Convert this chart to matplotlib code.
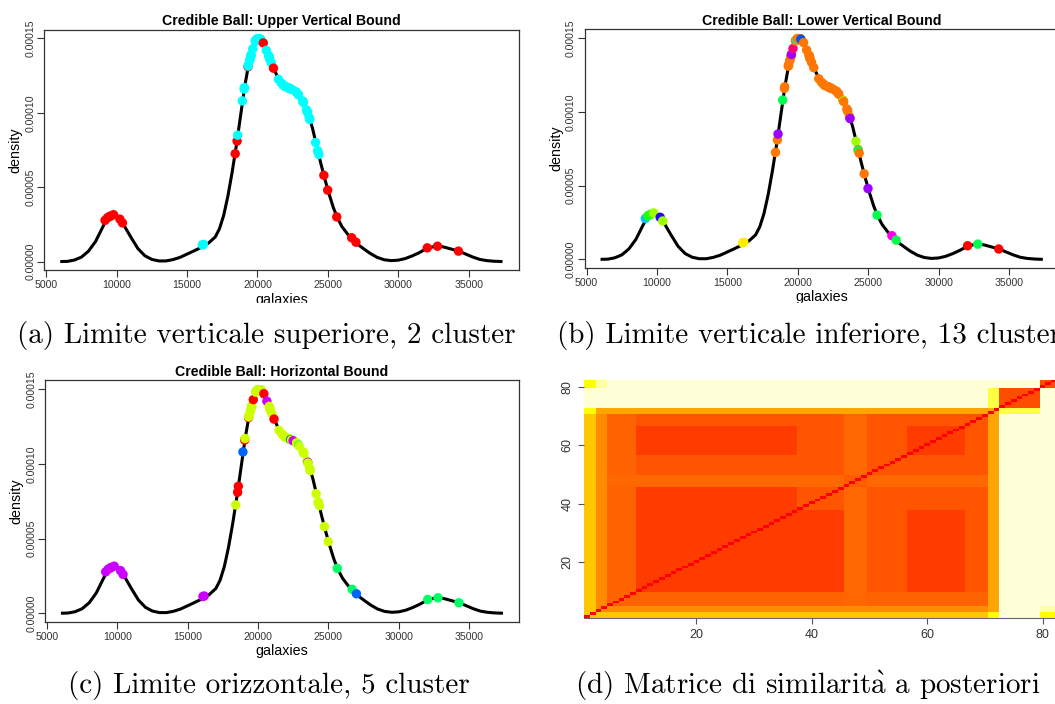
import numpy as np
import matplotlib.pyplot as plt
from matplotlib.colors import LinearSegmentedColormap
from matplotlib.patches import Rectangle

plt.rcParams['font.family'] = ['Liberation Sans', 'DejaVu Sans']
plt.rcParams['mathtext.fontset'] = 'cm'

# density curve
curve_x = [6100, 6500, 7000, 7500, 8000, 8500, 9000, 9300, 9600, 9800, 10000, 10300, 10600,
           11000, 11500, 12000, 12500, 13000, 13500, 14000, 14500, 15000, 15500, 16000, 16500,
           17000, 17300, 17600, 17900, 18200, 18500, 18800, 19100, 19400, 19700, 20000, 20300,
           20600, 20900, 21200, 21500, 21800, 22100, 22400, 22700, 23000, 23300, 23600, 23900,
           24200, 24500, 24800, 25100, 25400, 25700, 26000, 26400, 26800, 27200, 27600, 28000,
           28500, 29000, 29500, 30000, 30500, 31000, 31500, 32000, 32500, 32900, 33300, 33800,
           34300, 34800, 35300, 35800, 36300, 36800, 37300]
curve_y = [0.0, 0.1e-6, 1.0e-6, 3.0e-6, 7.0e-6, 1.35e-5, 2.3e-5, 2.85e-5, 3.12e-5, 3.16e-5, 3.08e-5,
           2.8e-5, 2.3e-5, 1.65e-5, 8.8e-6, 3.9e-6, 1.4e-6, 4e-7, 4e-7, 1.3e-6, 2.8e-6, 5e-6,
           7.2e-6, 9.5e-6, 1.22e-5, 1.65e-5, 2.2e-5, 3.1e-5, 4.4e-5, 6.0e-5, 7.8e-5, 9.8e-5,
           1.18e-4, 1.34e-4, 1.44e-4, 1.50e-4, 1.485e-4, 1.42e-4, 1.36e-4, 1.29e-4, 1.225e-4,
           1.19e-4, 1.172e-4, 1.16e-4, 1.145e-4, 1.12e-4, 1.07e-4, 9.9e-5, 9.0e-5, 7.8e-5,
           6.6e-5, 5.5e-5, 4.5e-5, 3.6e-5, 2.9e-5, 2.35e-5, 1.85e-5, 1.45e-5, 1.1e-5, 8.2e-6,
           5.5e-6, 2.8e-6, 1.2e-6, 6e-7, 9e-7, 2.0e-6, 3.8e-6, 6.0e-6, 8.6e-6, 1.0e-5, 1.04e-5,
           9.6e-6, 8.3e-6, 7.0e-6, 5.0e-6, 3.0e-6, 1.4e-6, 6e-7, 2e-7, 0.0]

# galaxy velocities and the density drawn at each
galaxies = [9172, 9350, 9483, 9558, 9775, 10227, 10406, 16084, 16170, 18419,
            18552, 18600, 18927, 19052, 19070, 19330, 19343, 19349, 19440, 19473,
            19529, 19541, 19547, 19663, 19846, 19856, 19863, 19914, 19918, 19973,
            19989, 20166, 20175, 20179, 20196, 20215, 20221, 20415, 20629, 20795,
            20821, 20846, 20875, 20986, 21137, 21492, 21701, 21814, 21921, 21960,
            22185, 22209, 22242, 22249, 22314, 22374, 22495, 22746, 22747, 22888,
            22914, 23206, 23241, 23263, 23484, 23538, 23542, 23666, 23706, 23711,
            24129, 24285, 24289, 24366, 24717, 24990, 25633, 26690, 26995, 32065,
            32789, 34279]
galaxy_density = [2.77e-5, 2.95e-5, 3.02e-5, 3.06e-5, 3.15e-5, 2.85e-5, 2.6e-5, 1.12e-5, 1.15e-5, 7.25e-5,
                  8.1e-5, 8.5e-5, 1.08e-4, 1.16e-4, 1.17e-4, 1.31e-4, 1.315e-4, 1.32e-4, 1.35e-4, 1.36e-4,
                  1.38e-4, 1.385e-4, 1.39e-4, 1.43e-4, 1.48e-4, 1.485e-4, 1.487e-4, 1.49e-4, 1.49e-4, 1.497e-4,
                  1.498e-4, 1.497e-4, 1.496e-4, 1.496e-4, 1.495e-4, 1.494e-4, 1.493e-4, 1.47e-4, 1.42e-4, 1.385e-4,
                  1.38e-4, 1.37e-4, 1.36e-4, 1.335e-4, 1.30e-4, 1.225e-4, 1.20e-4, 1.19e-4, 1.18e-4, 1.177e-4,
                  1.17e-4, 1.168e-4, 1.166e-4, 1.165e-4, 1.163e-4, 1.16e-4, 1.155e-4, 1.14e-4, 1.14e-4, 1.125e-4,
                  1.12e-4, 1.08e-4, 1.075e-4, 1.07e-4, 1.02e-4, 1.01e-4, 1.005e-4, 9.7e-5, 9.6e-5, 9.55e-5,
                  8.0e-5, 7.45e-5, 7.4e-5, 7.2e-5, 5.8e-5, 4.8e-5, 3.0e-5, 1.6e-5, 1.3e-5, 9.2e-6,
                  1.03e-5, 7.0e-6]

# cluster labels of each galaxy in the three credible-ball bounds
labels_upper = [0, 0, 0, 0, 0, 0, 0, 1, 1, 0,
                0, 1, 1, 1, 1, 0, 1, 1, 1, 1,
                1, 1, 1, 1, 1, 1, 1, 1, 1, 1,
                1, 1, 1, 1, 1, 1, 1, 0, 1, 1,
                1, 1, 1, 1, 0, 1, 1, 1, 1, 1,
                1, 1, 1, 1, 1, 1, 1, 1, 1, 1,
                1, 1, 1, 1, 1, 1, 1, 1, 1, 1,
                1, 1, 1, 1, 0, 0, 0, 0, 0, 0,
                0, 0]
labels_lower = [7, 4, 5, 4, 3, 9, 3, 2, 2, 1,
                1, 10, 5, 1, 1, 1, 1, 1, 1, 1,
                1, 1, 10, 12, 1, 1, 1, 1, 6, 1,
                1, 1, 1, 1, 1, 1, 8, 1, 1, 1,
                1, 1, 1, 1, 1, 1, 1, 1, 1, 1,
                1, 1, 1, 1, 1, 1, 1, 1, 1, 1,
                1, 1, 3, 1, 1, 1, 1, 1, 1, 10,
                3, 1, 5, 1, 1, 10, 5, 11, 5, 0,
                5, 0]
labels_horiz = [4, 4, 4, 4, 4, 4, 4, 4, 4, 1,
                0, 0, 3, 0, 1, 0, 1, 1, 1, 1,
                1, 1, 1, 0, 1, 1, 1, 1, 1, 1,
                1, 1, 1, 1, 1, 1, 1, 0, 4, 1,
                1, 1, 1, 1, 0, 1, 1, 1, 1, 1,
                1, 1, 1, 1, 3, 1, 4, 1, 1, 2,
                1, 1, 1, 1, 1, 4, 1, 1, 1, 1,
                1, 1, 1, 1, 1, 1, 2, 2, 3, 2,
                2, 2]

rainbow2 = ["#FF0000", "#00FFFF"]
rainbow5 = ["#FF0000", "#CCFF00", "#00FF66", "#0066FF", "#CC00FF"]
rainbow13 = ["#FF0000", "#FF7600", "#FFEC00", "#9DFF00", "#27FF00", "#00FF4E", "#00FFC4",
             "#00C4FF", "#004EFF", "#2700FF", "#9D00FF", "#FF00EC", "#FF0076"]

# posterior similarity matrix, described by blocks of observations
group_sizes = [2, 2, 5, 28, 8, 4, 7, 10, 4, 2, 7, 3]
block_sim = [
    [0.43, 0.43, 0.43, 0.43, 0.43, 0.43, 0.43, 0.43, 0.43, 0.27, 0.00, 0.27],
    [0.43, 0.60, 0.60, 0.60, 0.60, 0.60, 0.60, 0.60, 0.60, 0.53, 0.00, 0.05],
    [0.43, 0.60, 0.72, 0.72, 0.72, 0.70, 0.72, 0.72, 0.72, 0.53, 0.00, 0.00],
    [0.43, 0.60, 0.72, 0.83, 0.83, 0.70, 0.76, 0.83, 0.76, 0.53, 0.00, 0.00],
    [0.43, 0.60, 0.72, 0.83, 0.76, 0.70, 0.76, 0.76, 0.76, 0.53, 0.00, 0.00],
    [0.43, 0.60, 0.70, 0.70, 0.70, 0.74, 0.70, 0.70, 0.70, 0.53, 0.00, 0.00],
    [0.43, 0.60, 0.72, 0.76, 0.76, 0.70, 0.76, 0.76, 0.76, 0.53, 0.00, 0.00],
    [0.43, 0.60, 0.72, 0.83, 0.76, 0.70, 0.76, 0.83, 0.76, 0.53, 0.00, 0.00],
    [0.43, 0.60, 0.72, 0.76, 0.76, 0.70, 0.76, 0.76, 0.76, 0.53, 0.00, 0.00],
    [0.27, 0.53, 0.53, 0.53, 0.53, 0.53, 0.53, 0.53, 0.53, 0.50, 0.16, 0.00],
    [0.00, 0.00, 0.00, 0.00, 0.00, 0.00, 0.00, 0.00, 0.00, 0.16, 0.78, 0.00],
    [0.27, 0.05, 0.00, 0.00, 0.00, 0.00, 0.00, 0.00, 0.00, 0.00, 0.00, 0.78],
]

heat = ["#FFFFD8", "#FFFF80", "#FFFF2A", "#FFFF00", "#FFDF00", "#FFBF00",
        "#FF9F00", "#FF8000", "#FF6000", "#FF4000", "#FF2000", "#FF0000"]
heat_cmap = LinearSegmentedColormap.from_list("heat", heat)

W, H = 1055, 704
fig = plt.figure(figsize=(W / 100, H / 100), dpi=100)


def box(left, top, right, bottom):
    return [left / W, 1 - bottom / H, (right - left) / W, (bottom - top) / H]


def density_panel(rect, title, labels, palette):
    ax = fig.add_axes(rect)
    ax.plot(curve_x, curve_y, color="black", lw=2.2, zorder=2)
    ax.scatter(galaxies, galaxy_density, c=[palette[k] for k in labels],
               s=46, linewidths=0, zorder=3)
    ax.set_xlim(4858, 38551)
    ax.set_ylim(-5.9e-6, 1.559e-4)
    ax.set_xticks([5000, 10000, 15000, 20000, 25000, 30000, 35000])
    ax.set_yticks([0, 5e-5, 1e-4, 1.5e-4], ["0.00000", "0.00005", "0.00010", "0.00015"])
    ax.tick_params(direction="out", length=4.8, width=0.8, labelsize=7.6,
                   labelcolor="#333333", color="#333333")
    ax.tick_params(axis="x", pad=2.5)
    ax.tick_params(axis="y", pad=1.5)
    for t in ax.get_yticklabels():
        t.set_rotation(90)
        t.set_va("center")
    for s in ax.spines.values():
        s.set_color("#333333")
        s.set_linewidth(0.9)
    ax.set_title(title, fontsize=10.2, fontweight="bold", pad=3.5)
    ax.set_xlabel("galaxies", fontsize=10.3, labelpad=1.5)
    ax.set_ylabel("density", fontsize=10.3, labelpad=2)
    return ax


density_panel(box(44.3, 29.7, 518.6, 270.3), "Credible Ball: Upper Vertical Bound",
              labels_upper, rainbow2)
density_panel(box(584.6, 29.5, 1058.9, 268.0), "Credible Ball: Lower Vertical Bound",
              labels_lower, rainbow13)
density_panel(box(45.0, 380.4, 519.0, 622.0), "Credible Ball: Horizontal Bound",
              labels_horiz, rainbow5)

# similarity heatmap
groups = np.repeat(np.arange(len(group_sizes)), group_sizes)
sim = np.array(block_sim)[groups][:, groups]
np.fill_diagonal(sim, 1.0)
n = len(groups)
axd = fig.add_axes(box(584.0, 380.0, 1057.0, 618.3))
axd.imshow(sim, cmap=heat_cmap, vmin=0, vmax=1, origin="lower", aspect="auto",
           interpolation="nearest", extent=(0.5, n + 0.5, 0.5, n + 0.5))
axd.set_xticks([20, 40, 60, 80])
axd.set_yticks([20, 40, 60, 80])
axd.tick_params(direction="out", length=4, width=0.8, labelsize=9,
                labelcolor="#333333", color="#555555")
for t in axd.get_yticklabels():
    t.set_rotation(90)
    t.set_va("center")
for side in ["top", "right", "left"]:
    axd.spines[side].set_visible(False)
axd.spines["bottom"].set_color("#666677")

# the page crop hides the bottom of the first row's x labels
fig.add_artist(Rectangle((0, 1 - 362 / H), 1, 59 / H, transform=fig.transFigure,
                         color="white", zorder=3))

cap = dict(fontsize=21, family=["cmr10", "DejaVu Serif"], zorder=4, va="center")
fig.text(17 / W, 1 - 336 / H, "(a) Limite verticale superiore, 2 cluster", ha="left", **cap)
fig.text(557 / W, 1 - 336 / H, "(b) Limite verticale inferiore, 13 cluster", ha="left", **cap)
fig.text(269 / W, 1 - 686 / H, "(c) Limite orizzontale, 5 cluster", ha="center", **cap)
fig.text(808 / W, 1 - 686 / H, r"(d) Matrice di similarit$\grave{\mathrm{a}}$ a posteriori",
         ha="center", **cap)

fig.savefig("out.png", dpi=100)
